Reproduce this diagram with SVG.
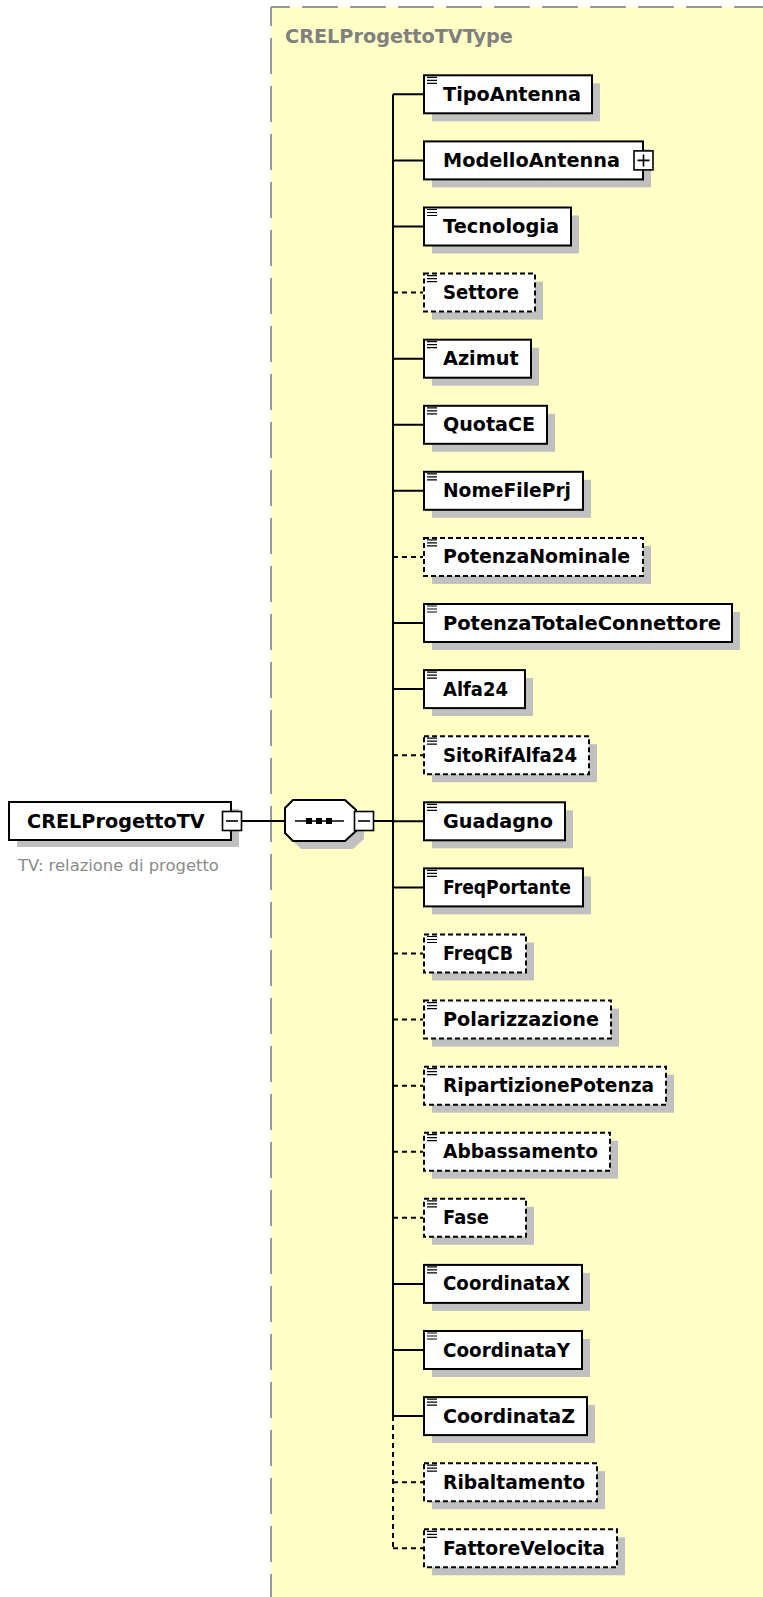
<svg xmlns="http://www.w3.org/2000/svg" width="763" height="1597" viewBox="0 0 763 1597">
<style>
.bg{fill:#FFFFC6}
.bgb{fill:none;stroke:#999;stroke-width:2;stroke-dasharray:36,12;stroke-dashoffset:17}
.box{fill:#fff;stroke:#000;stroke-width:2}
.opt{fill:#fff;stroke:#000;stroke-width:2;stroke-dasharray:5,3}
.sh{fill:#c0c0c0}
.lbl{font-family:"DejaVu Sans",sans-serif;font-weight:bold;font-size:19.25px;fill:#000}
.ttl{font-family:"DejaVu Sans",sans-serif;font-weight:bold;font-size:19.25px;fill:#808080}
.sub{font-family:"DejaVu Sans",sans-serif;font-size:16.4px;fill:#8a8a8a}
.icon{stroke:#000;stroke-width:1.2;fill:none}
.conn{stroke:#000;stroke-width:2;fill:none}
.dash{stroke-dasharray:5,4}
.pm{fill:#fff;stroke:#000;stroke-width:1.6}
.pml{stroke:#000;stroke-width:1.6;fill:none}
</style>
<defs>
<path id="ic" class="icon" d="M427,-17h10M427,-14h10M427,-11h10"/>
</defs>
<g id="type-bg">
<rect class="bg" x="271" y="7" width="500" height="1600"/>
<path class="bgb" d="M271,7H763"/>
<path class="bgb" d="M271,7V1597"/>
<text class="ttl" x="285" y="43">CRELProgettoTVType</text>
</g>
<g id="connectors">
<path class="conn" d="M241,821H285M374,821H393M393,94.3V1416.1"/>
<path class="conn dash" d="M393,1416.1V1548.3"/>
<path class="conn" d="M393,94.3H423M393,160.4H423M393,226.5H423M393,358.7H423M393,424.8H423M393,490.8H423M393,623H423M393,689.1H423M393,821.3H423M393,887.4H423M393,1283.9H423M393,1350H423M393,1416.1H423"/>
<path class="conn dash" d="M393,292.6H423M393,556.9H423M393,755.2H423M393,953.5H423M393,1019.6H423M393,1085.7H423M393,1151.7H423M393,1217.8H423M393,1482.2H423M393,1548.3H423"/>
</g>
<g id="CRELProgettoTV">
<rect class="sh" x="17" y="809" width="222" height="38"/>
<rect class="box" x="9" y="802" width="222" height="38"/>
<text class="lbl" x="27" y="828">CRELProgettoTV</text>
<rect class="pm" x="222.5" y="811.5" width="19" height="19"/>
<path class="pml" d="M226,821H238"/>
<text class="sub" x="18" y="871">TV: relazione di progetto</text>
</g>
<g id="sequence">
<polygon class="sh" points="301,808 353,808 364,818 364,839 353,849 301,849 293,841 293,816"/>
<polygon class="box" points="293,800 345,800 356,810 356,831 345,841 293,841 285,833 285,808"/>
<path class="pml" d="M295,821H344"/>
<rect x="306" y="818" width="6" height="6" fill="#000"/>
<rect x="316" y="818" width="6" height="6" fill="#000"/>
<rect x="326" y="818" width="6" height="6" fill="#000"/>
<rect class="pm" x="354.5" y="811.5" width="19" height="19"/>
<path class="pml" d="M358,821H370"/>
</g>
<g id="TipoAntenna" transform="translate(0,94.3)">
<rect class="sh" x="432" y="-11" width="168" height="38"/><rect class="box" x="424" y="-19" width="168" height="38"/><use href="#ic"/><text class="lbl" x="443" y="6.5">TipoAntenna</text>
</g>
<g id="ModelloAntenna" transform="translate(0,160.4)">
<rect class="sh" x="432" y="-11" width="219" height="38"/><rect class="box" x="424" y="-19" width="219" height="38"/><text class="lbl" x="443" y="6.5">ModelloAntenna</text>
<rect class="pm" x="634" y="-9.5" width="19" height="19"/><path class="pml" d="M637.5,0H649.5M643.5,-6V6"/>
</g>
<g id="Tecnologia" transform="translate(0,226.5)">
<rect class="sh" x="432" y="-11" width="147" height="38"/><rect class="box" x="424" y="-19" width="147" height="38"/><use href="#ic"/><text class="lbl" x="443" y="6.5" textLength="116" lengthAdjust="spacingAndGlyphs">Tecnologia</text>
</g>
<g id="Settore" transform="translate(0,292.6)">
<rect class="sh" x="432" y="-11" width="111" height="38"/><rect class="opt" x="424" y="-19" width="111" height="38"/><use href="#ic"/><text class="lbl" x="443" y="6.5" textLength="76" lengthAdjust="spacingAndGlyphs">Settore</text>
</g>
<g id="Azimut" transform="translate(0,358.7)">
<rect class="sh" x="432" y="-11" width="107" height="38"/><rect class="box" x="424" y="-19" width="107" height="38"/><use href="#ic"/><text class="lbl" x="443" y="6.5">Azimut</text>
</g>
<g id="QuotaCE" transform="translate(0,424.8)">
<rect class="sh" x="432" y="-11" width="123" height="38"/><rect class="box" x="424" y="-19" width="123" height="38"/><use href="#ic"/><text class="lbl" x="443" y="6.5" textLength="92" lengthAdjust="spacingAndGlyphs">QuotaCE</text>
</g>
<g id="NomeFilePrj" transform="translate(0,490.8)">
<rect class="sh" x="432" y="-11" width="159" height="38"/><rect class="box" x="424" y="-19" width="159" height="38"/><use href="#ic"/><text class="lbl" x="443" y="6.5" textLength="128" lengthAdjust="spacingAndGlyphs">NomeFilePrj</text>
</g>
<g id="PotenzaNominale" transform="translate(0,556.9)">
<rect class="sh" x="432" y="-11" width="219" height="38"/><rect class="opt" x="424" y="-19" width="219" height="38"/><use href="#ic"/><text class="lbl" x="443" y="6.5" textLength="187" lengthAdjust="spacingAndGlyphs">PotenzaNominale</text>
</g>
<g id="PotenzaTotaleConnettore" transform="translate(0,623)">
<rect class="sh" x="432" y="-11" width="308" height="38"/><rect class="box" x="424" y="-19" width="308" height="38"/><use href="#ic"/><text class="lbl" x="443" y="6.5" textLength="278" lengthAdjust="spacingAndGlyphs">PotenzaTotaleConnettore</text>
</g>
<g id="Alfa24" transform="translate(0,689.1)">
<rect class="sh" x="432" y="-11" width="101" height="38"/><rect class="box" x="424" y="-19" width="101" height="38"/><use href="#ic"/><text class="lbl" x="443" y="6.5" textLength="65" lengthAdjust="spacingAndGlyphs">Alfa24</text>
</g>
<g id="SitoRifAlfa24" transform="translate(0,755.2)">
<rect class="sh" x="432" y="-11" width="165" height="38"/><rect class="opt" x="424" y="-19" width="165" height="38"/><use href="#ic"/><text class="lbl" x="443" y="6.5" textLength="134" lengthAdjust="spacingAndGlyphs">SitoRifAlfa24</text>
</g>
<g id="Guadagno" transform="translate(0,821.3)">
<rect class="sh" x="432" y="-11" width="141" height="38"/><rect class="box" x="424" y="-19" width="141" height="38"/><use href="#ic"/><text class="lbl" x="443" y="6.5" textLength="110" lengthAdjust="spacingAndGlyphs">Guadagno</text>
</g>
<g id="FreqPortante" transform="translate(0,887.4)">
<rect class="sh" x="432" y="-11" width="159" height="38"/><rect class="box" x="424" y="-19" width="159" height="38"/><use href="#ic"/><text class="lbl" x="443" y="6.5" textLength="128" lengthAdjust="spacingAndGlyphs">FreqPortante</text>
</g>
<g id="FreqCB" transform="translate(0,953.5)">
<rect class="sh" x="432" y="-11" width="102" height="38"/><rect class="opt" x="424" y="-19" width="102" height="38"/><use href="#ic"/><text class="lbl" x="443" y="6.5" textLength="70" lengthAdjust="spacingAndGlyphs">FreqCB</text>
</g>
<g id="Polarizzazione" transform="translate(0,1019.6)">
<rect class="sh" x="432" y="-11" width="187" height="38"/><rect class="opt" x="424" y="-19" width="187" height="38"/><use href="#ic"/><text class="lbl" x="443" y="6.5" textLength="156" lengthAdjust="spacingAndGlyphs">Polarizzazione</text>
</g>
<g id="RipartizionePotenza" transform="translate(0,1085.7)">
<rect class="sh" x="432" y="-11" width="242" height="38"/><rect class="opt" x="424" y="-19" width="242" height="38"/><use href="#ic"/><text class="lbl" x="443" y="6.5" textLength="211" lengthAdjust="spacingAndGlyphs">RipartizionePotenza</text>
</g>
<g id="Abbassamento" transform="translate(0,1151.7)">
<rect class="sh" x="432" y="-11" width="186" height="38"/><rect class="opt" x="424" y="-19" width="186" height="38"/><use href="#ic"/><text class="lbl" x="443" y="6.5" textLength="155" lengthAdjust="spacingAndGlyphs">Abbassamento</text>
</g>
<g id="Fase" transform="translate(0,1217.8)">
<rect class="sh" x="432" y="-11" width="102" height="38"/><rect class="opt" x="424" y="-19" width="102" height="38"/><use href="#ic"/><text class="lbl" x="443" y="6.5" textLength="46" lengthAdjust="spacingAndGlyphs">Fase</text>
</g>
<g id="CoordinataX" transform="translate(0,1283.9)">
<rect class="sh" x="432" y="-11" width="158" height="38"/><rect class="box" x="424" y="-19" width="158" height="38"/><use href="#ic"/><text class="lbl" x="443" y="6.5" textLength="127" lengthAdjust="spacingAndGlyphs">CoordinataX</text>
</g>
<g id="CoordinataY" transform="translate(0,1350)">
<rect class="sh" x="432" y="-11" width="158" height="38"/><rect class="box" x="424" y="-19" width="158" height="38"/><use href="#ic"/><text class="lbl" x="443" y="6.5" textLength="127" lengthAdjust="spacingAndGlyphs">CoordinataY</text>
</g>
<g id="CoordinataZ" transform="translate(0,1416.1)">
<rect class="sh" x="432" y="-11" width="163" height="38"/><rect class="box" x="424" y="-19" width="163" height="38"/><use href="#ic"/><text class="lbl" x="443" y="6.5" textLength="132" lengthAdjust="spacingAndGlyphs">CoordinataZ</text>
</g>
<g id="Ribaltamento" transform="translate(0,1482.2)">
<rect class="sh" x="432" y="-11" width="173" height="38"/><rect class="opt" x="424" y="-19" width="173" height="38"/><use href="#ic"/><text class="lbl" x="443" y="6.5" textLength="142" lengthAdjust="spacingAndGlyphs">Ribaltamento</text>
</g>
<g id="FattoreVelocita" transform="translate(0,1548.3)">
<rect class="sh" x="432" y="-11" width="193" height="38"/><rect class="opt" x="424" y="-19" width="193" height="38"/><use href="#ic"/><text class="lbl" x="443" y="6.5" textLength="162" lengthAdjust="spacingAndGlyphs">FattoreVelocita</text>
</g>
</svg>
